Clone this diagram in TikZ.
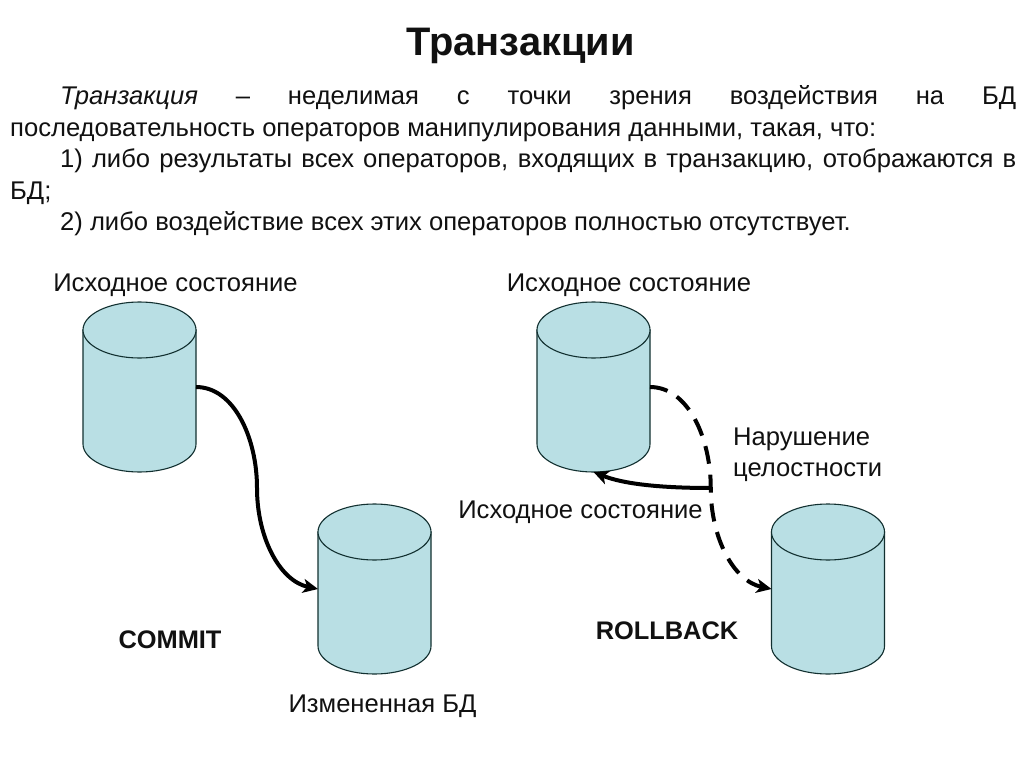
\documentclass[tikz,border=0pt]{standalone}
\usepackage{fontspec}
\setmainfont{Liberation Sans}
\usetikzlibrary{arrows.meta,calc}
\definecolor{cylfill}{HTML}{B9DFE4}
\definecolor{cylline}{HTML}{123030}
\definecolor{ink}{HTML}{111111}
\tikzset{
  dbcyl/.style={shape=rectangle,minimum width=113pt,minimum height=170pt,inner sep=0pt,outer sep=0pt},
  cylpaint/.style={draw=cylline,line width=1.1pt,fill=cylfill},
  lab/.style={font=\fontsize{25.6}{30}\selectfont,text=ink,inner sep=0pt,anchor=base},
  boldlab/.style={lab,font=\fontsize{25.4}{30}\selectfont\bfseries},
  bodyline/.style={lab,anchor=base west},
  flow/.style={line width=4pt,draw=black,-{Stealth[length=15pt,width=14pt,inset=4pt]}},
  flowdash/.style={flow,dash pattern=on 18pt off 11pt},
}
\newcommand{\dbdraw}[1]{%
  \path[cylpaint] ($(#1.north west)+(0,28)$) -- ($(#1.south west)+(0,-28)$)
    arc[start angle=180,end angle=360,x radius=56.5pt,y radius=28pt]
    -- ($(#1.north east)+(0,28)$) -- cycle;
  \path[cylpaint] ($(#1.north)+(0,28)$) ellipse[x radius=56.5pt,y radius=28pt];
}
\begin{document}
\begin{tikzpicture}[x=1pt,y=-1pt]
\useasboundingbox[fill=white] (0,0) rectangle (1024,767);
\node[lab,font=\fontsize{39.8}{42}\selectfont\bfseries] (title) at (520.5,56) {Транзакции};
\node[bodyline] (l1) at (60,105) {\makebox[956pt][s]{\textit{Транзакция} – неделимая с точки зрения воздействия на БД}};
\node[bodyline] (l2) at (10,136.5) {последовательность операторов манипулирования данными, такая, что:};
\node[bodyline] (l3) at (60,168) {\makebox[956pt][s]{1) либо результаты всех операторов, входящих в транзакцию, отображаются в}};
\node[bodyline] (l4) at (10,199.5) {БД;};
\node[bodyline] (l5) at (60,231) {2) либо воздействие всех этих операторов полностью отсутствует.};
\node[lab] (s1) at (175.5,291) {Исходное состояние};
\node[lab] (s2) at (629,291) {Исходное состояние};
\node[lab] (s3) at (580.5,518) {Исходное состояние};
\node[lab,anchor=base west] (viol1) at (733,445) {Нарушение};
\node[lab,anchor=base west] (viol2) at (733,476) {целостности};
\node[boldlab] (commit) at (170,648) {COMMIT};
\node[boldlab] (rollback) at (667,639) {ROLLBACK};
\node[lab] (changed) at (382.5,712) {Измененная БД};
\node[dbcyl] (c1) at (139.5,387) {};
\node[dbcyl] (c2) at (374.5,589) {};
\node[dbcyl] (c3) at (593.5,387) {};
\node[dbcyl] (c4) at (828,589) {};
\dbdraw{c1}\dbdraw{c2}\dbdraw{c3}\dbdraw{c4}
\coordinate (m1) at ($(c1.east)!.5!(c2.west)$);
\coordinate (m2) at ($(c3.east)!.5!(c4.west)$);
\draw[flow] (c1.east) .. controls ($(c1.east)+(38,0)$) and ($(m1)+(0,-50)$) .. (m1)
  .. controls ($(m1)+(0,50)$) and ($(c2.west)+(-38,-8)$) .. (c2.west);
\draw[flowdash] (c3.east) .. controls ($(c3.east)+(38,0)$) and ($(m2)+(0,-50)$) .. (m2)
  .. controls ($(m2)+(0,50)$) and ($(c4.west)+(-38,-8)$) .. (c4.west);
\draw[flow] (m2) .. controls ($(m2)+(-50,0)$) and ($(c3.south)+(30,12)$) .. (c3.south);
\end{tikzpicture}
\end{document}
